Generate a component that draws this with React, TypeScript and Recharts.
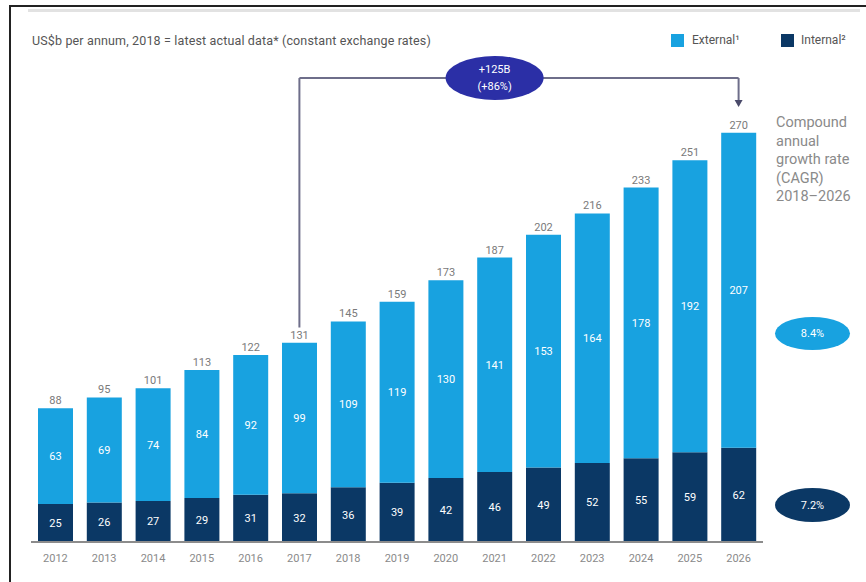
import React from 'react';
import { BarChart, Bar, XAxis, YAxis, LabelList, ReferenceLine, ReferenceDot } from 'recharts';

const years = ['2012', '2013', '2014', '2015', '2016', '2017', '2018', '2019', '2020', '2021', '2022', '2023', '2024', '2025', '2026'];
const internalValues = [25, 26, 27, 29, 31, 32, 36, 39, 42, 46, 49, 52, 55, 59, 62];
const externalValues = [63, 69, 74, 84, 92, 99, 109, 119, 130, 141, 153, 164, 178, 192, 207];
const totalValues = [88, 95, 101, 113, 122, 131, 145, 159, 173, 187, 202, 216, 233, 251, 270];
const cagrLines = ['Compound', 'annual', 'growth rate', '(CAGR)', '2018\u20132026'];
const externalCagr = '8.4%';
const internalCagr = '7.2%';
const growthTop = '+125B';
const growthBottom = '(+86%)';

const data = years.map((year, i) => ({
  year,
  internal: internalValues[i],
  external: externalValues[i],
  total: totalValues[i],
}));

const LIGHT = '#18a2e0';
const NAVY = '#0b3865';
const INDIGO = '#2b2fa6';
const FONT = 'Roboto, "Noto Sans", sans-serif';

const OvalShape = (props: any) => {
  const { cx, cy } = props;
  return (
    <g>
      <ellipse cx={cx} cy={cy} rx={49} ry={22} fill={INDIGO} />
      <text x={cx} y={cy - 8} textAnchor="middle" dominantBaseline="middle" fill="#ffffff" fontSize={11} fontFamily={FONT}>
        {growthTop}
      </text>
      <text x={cx} y={cy + 9} textAnchor="middle" dominantBaseline="middle" fill="#ffffff" fontSize={11} fontFamily={FONT}>
        {growthBottom}
      </text>
    </g>
  );
};

const ArrowShape = (props: any) => {
  const { cx, cy } = props;
  return <path d={`M${cx - 4},${cy - 4} L${cx + 4},${cy - 4} L${cx},${cy + 3} Z`} fill="#4a4a6a" />;
};

export default function App() {
  return (
    <div style={{ position: 'absolute', left: 0, top: 0, width: 866, height: 582, background: '#ffffff', overflow: 'hidden', fontFamily: FONT }}>
      {/* frame */}
      <div style={{ position: 'absolute', left: 9, top: 5, width: 2, height: 577, background: '#222' }} />
      <div style={{ position: 'absolute', left: 9, top: 5, width: 857, height: 2, background: '#222' }} />
      <div style={{ position: 'absolute', left: 28, top: 9, width: 832, height: 3, background: '#e2e2e2' }} />

      {/* title */}
      <div style={{ position: 'absolute', left: 32, top: 33, fontSize: 12.5, color: '#555', whiteSpace: 'nowrap', letterSpacing: 0.15 }}>
        US$b per annum, 2018 = latest actual data* (constant exchange rates)
      </div>

      {/* legend */}
      <div style={{ position: 'absolute', left: 671, top: 34, width: 13, height: 13, background: LIGHT }} />
      <div style={{ position: 'absolute', left: 692, top: 33, fontSize: 12, color: '#555', whiteSpace: 'nowrap' }}>External¹</div>
      <div style={{ position: 'absolute', left: 781, top: 34, width: 13, height: 13, background: NAVY }} />
      <div style={{ position: 'absolute', left: 801, top: 33, fontSize: 12, color: '#555', whiteSpace: 'nowrap' }}>Internal²</div>

      <div style={{ position: 'absolute', left: 0, top: 0 }}>
        <BarChart width={866} height={582} data={data} margin={{ top: 40, right: 103, bottom: 10, left: 31 }} barSize={35}>
          <XAxis
            dataKey="year"
            tickLine={false}
            axisLine={{ stroke: '#8c8c8c', strokeWidth: 2 }}
            tick={{ fill: '#8a8a8a', fontSize: 11, fontFamily: FONT }}
            tickMargin={6}
            interval={0}
          />
          <YAxis hide domain={[0, 330]} />
          <Bar dataKey="internal" stackId="a" fill={NAVY} isAnimationActive={false}>
            <LabelList dataKey="internal" position="center" fill="#ffffff" fontSize={11} fontFamily={FONT} />
          </Bar>
          <Bar dataKey="external" stackId="a" fill={LIGHT} isAnimationActive={false}>
            <LabelList dataKey="external" position="center" fill="#ffffff" fontSize={11} fontFamily={FONT} />
            <LabelList dataKey="total" position="top" offset={4} fill="#7a7a7a" fontSize={11} fontFamily={FONT} />
          </Bar>
          <ReferenceLine segment={[{ x: '2017', y: 141 }, { x: '2017', y: 305 }]} stroke="#6e6e8a" strokeWidth={2} ifOverflow="visible" />
          <ReferenceLine segment={[{ x: '2017', y: 305 }, { x: '2026', y: 305 }]} stroke="#6e6e8a" strokeWidth={2} ifOverflow="visible" />
          <ReferenceLine segment={[{ x: '2026', y: 305 }, { x: '2026', y: 289 }]} stroke="#6e6e8a" strokeWidth={2} ifOverflow="visible" />
          <ReferenceDot x="2026" y={288} r={4} shape={ArrowShape} ifOverflow="visible" />
          <ReferenceDot x="2021" y={305} r={20} shape={OvalShape} ifOverflow="visible" />
        </BarChart>
      </div>

      {/* CAGR annotation */}
      <div style={{ position: 'absolute', left: 776, top: 114, fontSize: 14.5, lineHeight: '18.5px', color: '#8a8a8a' }}>
        {cagrLines.map((l) => (
          <div key={l} style={{ whiteSpace: 'nowrap' }}>{l}</div>
        ))}
      </div>
      <div style={{ position: 'absolute', left: 775, top: 317, width: 75, height: 33, borderRadius: '50%', background: LIGHT, color: '#fff', fontSize: 11, display: 'flex', alignItems: 'center', justifyContent: 'center' }}>
        {externalCagr}
      </div>
      <div style={{ position: 'absolute', left: 775, top: 488, width: 75, height: 34, borderRadius: '50%', background: NAVY, color: '#fff', fontSize: 11, display: 'flex', alignItems: 'center', justifyContent: 'center' }}>
        {internalCagr}
      </div>
    </div>
  );
}
